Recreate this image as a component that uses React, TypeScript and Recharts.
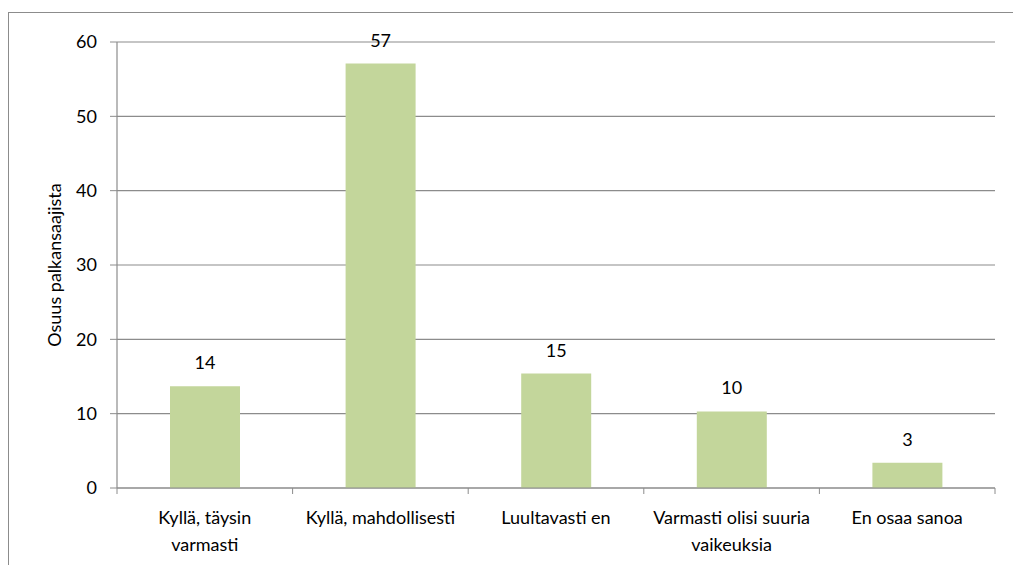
import { BarChart, Bar, XAxis, YAxis, CartesianGrid, LabelList } from "recharts";

const categories = [
  "Kyllä, täysin\nvarmasti",
  "Kyllä, mahdollisesti",
  "Luultavasti en",
  "Varmasti olisi suuria\nvaikeuksia",
  "En osaa sanoa",
];
const shares = [13.7, 57.1, 15.4, 10.3, 3.4];
const yTicks = [0, 10, 20, 30, 40, 50, 60];

const data = categories.map((name, i) => ({ name, value: shares[i] }));

const font = "Lato, 'Open Sans', sans-serif";
const gray = "#8c8c8c";

// category label plus a tick mark on the band edges (like Excel)
const CategoryTick = (props: any) => {
  const { x, y, payload, index, visibleTicksCount } = props;
  const half = payload.offset || 0;
  const lines = String(payload.value).split("\n");
  const isLast = index === visibleTicksCount - 1;
  return (
    <g>
      <line x1={x - half} x2={x - half} y1={y} y2={y + 6} stroke={gray} />
      {isLast && <line x1={x + half} x2={x + half} y1={y} y2={y + 6} stroke={gray} />}
      <text x={x} y={y} textAnchor="middle" fill="#000" fontSize={18} fontFamily={font}>
        {lines.map((l, i) => (
          <tspan key={i} x={x} dy={i === 0 ? 36 : 27}>
            {l}
          </tspan>
        ))}
      </text>
    </g>
  );
};

const App = () => {
  return (
    <div
      style={{
        position: "absolute",
        left: 8,
        top: 12,
        width: 1010,
        height: 560,
        borderTop: `1px solid ${gray}`,
        borderLeft: `1px solid ${gray}`,
        background: "#fff",
      }}
    >
      <BarChart
        width={1000}
        height={552}
        data={data}
        margin={{ top: 29, right: 14, left: 0, bottom: 0 }}
      >
        <CartesianGrid horizontal vertical={false} stroke={gray} strokeWidth={1.2} />
        <XAxis
          dataKey="name"
          height={77}
          axisLine={{ stroke: gray, strokeWidth: 1.2 }}
          tickLine={false}
          tickSize={0}
          tickMargin={0}
          tick={<CategoryTick />}
          interval={0}
        />
        <YAxis
          width={108}
          domain={[0, 60]}
          ticks={yTicks}
          tickSize={7}
          tickMargin={13}
          axisLine={{ stroke: gray, strokeWidth: 1.2 }}
          tickLine={{ stroke: gray }}
          tick={{ fill: "#000", fontSize: 18, fontFamily: font }}
          label={{
            value: "Osuus palkansaajista",
            angle: -90,
            position: "insideLeft",
            offset: 46,
            style: { textAnchor: "middle", fill: "#000", fontSize: 18, fontFamily: font },
          }}
        />
        <Bar dataKey="value" fill="#c3d69b" barSize={70} isAnimationActive={false}>
          <LabelList
            dataKey="value"
            position="top"
            offset={17}
            formatter={(v: any) => Math.round(Number(v))}
            style={{ fill: "#000", fontSize: 18, fontFamily: font }}
          />
        </Bar>
      </BarChart>
    </div>
  );
};

export default App;
